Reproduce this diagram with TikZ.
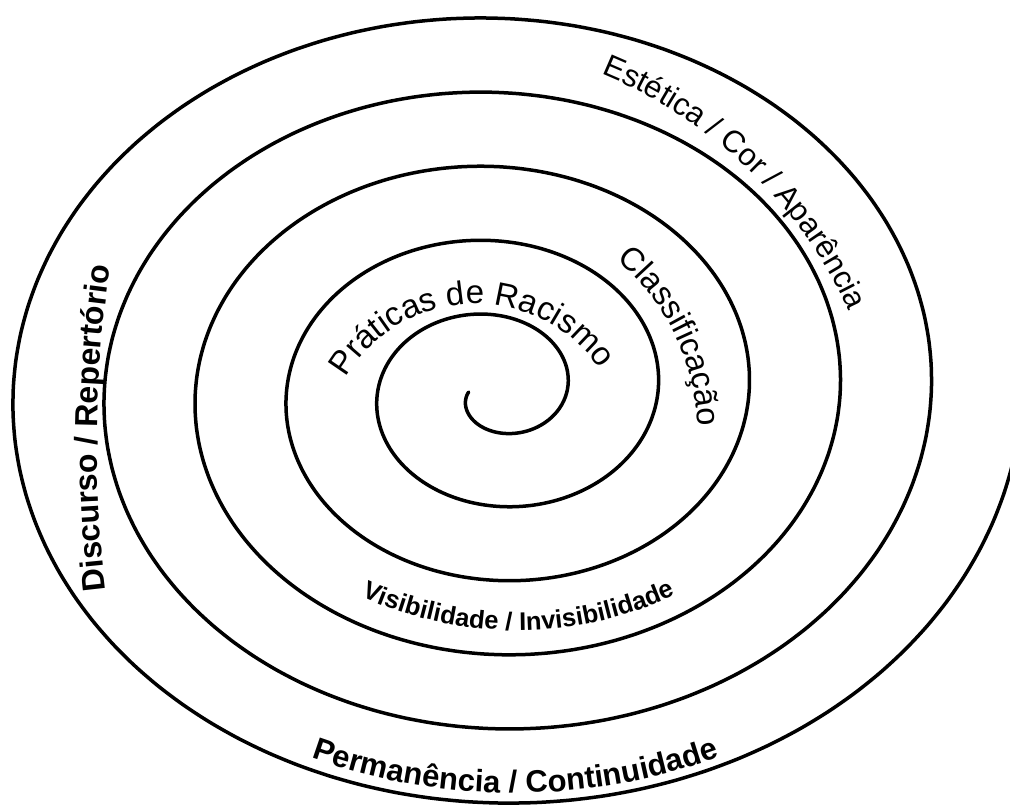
\documentclass[tikz,border=0pt]{standalone}
\usepackage{fontspec}
\setmainfont{Liberation Sans}
\usetikzlibrary{decorations.text}

\begin{document}
\begin{tikzpicture}[x=1pt, y=1pt,
    declare function={spx(\ang)=495+0.2531*(\ang-76)*cos(\ang);
                       spy(\ang)=415+0.2061*(\ang-76)*sin(\ang);},
    spiral/.style={line width=3.5pt, line cap=round, black},
    ringtext/.style 2 args={decorate, decoration={text along path, text align=center, text={|#1|#2}}}]

        \useasboundingbox (0,0) rectangle (1010,807);
        \clip (0,0) rectangle (1010,807);

        % the spiral
        \draw[spiral] plot[domain=180:2162, samples=500, smooth, variable=\w] ({spx(\w)},{spy(\w)});

        % centres of the label arcs
        \coordinate (pratica) at (475.7,353.3);
        \coordinate (classe) at (466.3,370.9);
        \coordinate (estetica) at (425.9,301.6);
        \coordinate (discurso) at (1297,362);
        \coordinate (visivel) at (516.9,552.6);
        \coordinate (permanencia) at (514.4,614.45);

        % labels between the turns
        \path[ringtext={\fontsize{33}{40}\selectfont}{Práticas de Racismo}]
            (pratica) ++(160:150) arc[start angle=160, end angle=24, radius=150];
        \path[ringtext={\fontsize{32.5}{39}\selectfont}{Classificação}]
            (classe) ++(60:231.9) arc[start angle=60, end angle=-8, radius=231.9];
        \path[ringtext={\fontsize{31}{37}\selectfont}{Estética / Cor / Aparência}]
            (estetica) ++(76.7:465.7) arc[start angle=76.7, end angle=15.8, radius=465.7];
        \path[ringtext={\fontsize{32}{38}\selectfont\bfseries}{Discurso / Repertório}]
            (discurso) ++(190.2:1200) arc[start angle=190.2, end angle=168.2, radius=1200];
        \path[ringtext={\fontsize{25.5}{30}\selectfont\bfseries}{Visibilidade / Invisibilidade}]
            (visivel) ++(235:375.8) arc[start angle=235, end angle=305.5, radius=375.8];
        \path[ringtext={\fontsize{31}{37}\selectfont\bfseries}{Permanência / Continuidade}]
            (permanencia) ++(245:600.45) arc[start angle=245, end angle=295.2, radius=600.45];

\end{tikzpicture}
\end{document}
